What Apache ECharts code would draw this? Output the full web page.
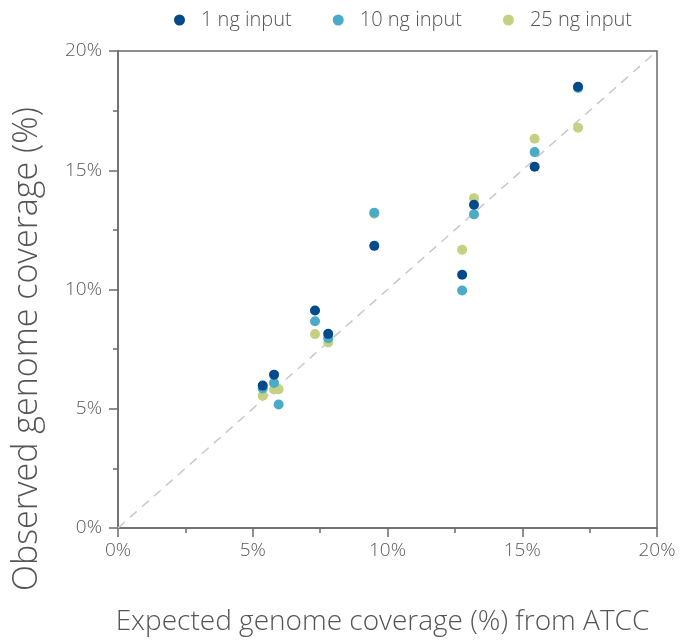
<!DOCTYPE html>
<html>
<head>
<meta charset="utf-8">
<script src="https://cdn.jsdelivr.net/npm/echarts@6/dist/echarts.min.js"></script>
<style>html,body{margin:0;padding:0;background:#fff}#c{width:681px;height:641px}</style>
</head>
<body>
<div id="c"></div>
<script>
const seriesNames = ['1 ng input', '10 ng input', '25 ng input'];
const expected1 = [5.37, 5.79, 7.31, 7.80, 9.51, 12.77, 13.21, 15.46, 17.07];
const observed1 = [5.97, 6.43, 9.12, 8.14, 11.83, 10.62, 13.55, 15.15, 18.50];
const expected10 = [5.37, 5.79, 5.96, 7.31, 7.80, 9.51, 12.77, 13.21, 15.46, 17.07];
const observed10 = [5.85, 6.08, 5.18, 8.67, 7.96, 13.22, 9.96, 13.15, 15.76, 18.45];
const expected25 = [5.37, 5.79, 5.96, 7.31, 7.80, 9.51, 12.77, 13.21, 15.46, 17.07];
const observed25 = [5.55, 5.81, 5.82, 8.13, 7.78, 13.18, 11.67, 13.83, 16.32, 16.78];
const identityLine = [[0, 0], [20, 20]];
const colors = ['#034a8a', '#4aabc8', '#c5d083'];

function pairs(xs, ys) { return xs.map((x, i) => [x, ys[i]]); }

const FONT = '"Open Sans", Lato, sans-serif';
const chart = echarts.init(document.getElementById('c'), null, {renderer: 'canvas'});
const axisCommon = {
  type: 'value', min: 0, max: 20, interval: 5,
  axisLine: {show: true, lineStyle: {color: '#6b6b6b', width: 1.5}},
  axisTick: {show: true, length: 9, lineStyle: {color: '#6b6b6b', width: 1.5}},
  minorTick: {show: true, splitNumber: 2, length: 5, lineStyle: {color: '#6b6b6b', width: 1.5}},
  splitLine: {show: false},
  axisLabel: {formatter: '{value}%', color: '#5a5a5a', fontSize: 19, fontFamily: FONT, fontWeight: 300}
};
chart.setOption({
  animation: false,
  color: colors,
  grid: {left: 118, right: 24, top: 51, bottom: 110, show: true, borderColor: '#6b6b6b', borderWidth: 1.5},
  legend: {
    data: seriesNames, top: 5, left: 169, icon: 'circle', itemWidth: 11, itemHeight: 11, itemGap: 41,
    textStyle: {color: '#555', fontSize: 20, fontFamily: FONT, fontWeight: 300, padding: [0, 0, 0, 11]}
  },
  xAxis: Object.assign({}, axisCommon, {
    name: 'Expected genome coverage (%) from ATCC', nameLocation: 'middle', nameGap: 80,
    nameTextStyle: {color: '#555', fontSize: 28, fontFamily: FONT, fontWeight: 300, padding: [0, 10, 0, 0]},
    axisLabel: Object.assign({}, axisCommon.axisLabel, {margin: 13})
  }),
  yAxis: Object.assign({}, axisCommon, {
    axisLabel: Object.assign({}, axisCommon.axisLabel, {margin: 16})
  }),
  graphic: [{
    type: 'text', x: 27, y: 349, rotation: Math.PI / 2,
    style: {text: 'Observed genome coverage (%)', fill: '#555', font: '300 34px ' + FONT, textAlign: 'center', textVerticalAlign: 'middle'}
  }],
  series: [
    {type: 'line', data: identityLine, symbol: 'none', silent: true, z: 1,
     lineStyle: {color: '#c8c8c8', width: 1.5, type: [9, 7]}},
    {name: seriesNames[2], type: 'scatter', symbolSize: 10, data: pairs(expected25, observed25), itemStyle: {color: colors[2], opacity: 1}, z: 2},
    {name: seriesNames[1], type: 'scatter', symbolSize: 10, data: pairs(expected10, observed10), itemStyle: {color: colors[1], opacity: 1}, z: 3},
    {name: seriesNames[0], type: 'scatter', symbolSize: 10, data: pairs(expected1, observed1), itemStyle: {color: colors[0], opacity: 1}, z: 4}
  ]
});
</script>
</body>
</html>
